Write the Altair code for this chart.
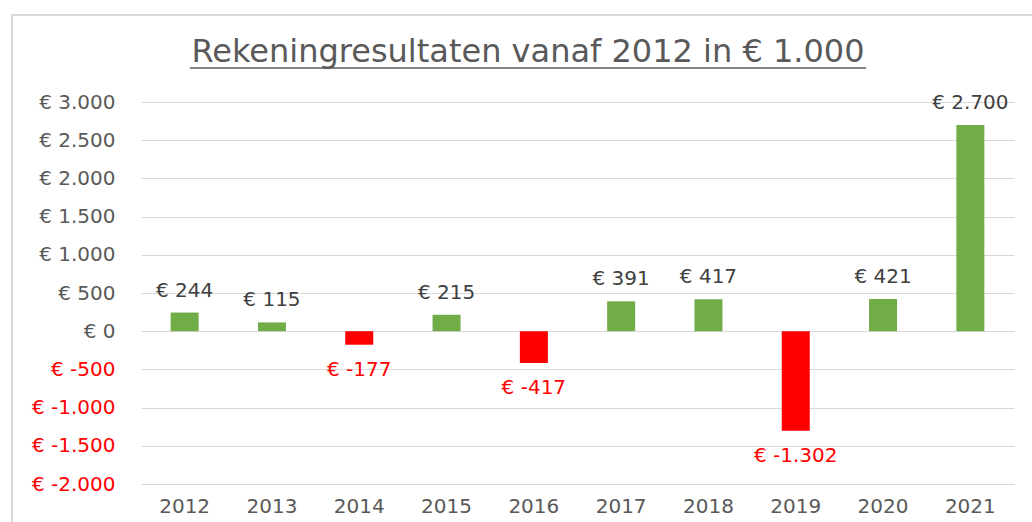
import altair as alt
import pandas as pd

years = ["2012", "2013", "2014", "2015", "2016", "2017", "2018", "2019", "2020", "2021"]
values = [244, 115, -177, 215, -417, 391, 417, -1302, 421, 2700]
y_ticks = [-2000, -1500, -1000, -500, 0, 500, 1000, 1500, 2000, 2500, 3000]
title_text = "Rekeningresultaten vanaf 2012 in € 1.000"


def eur(v):
    s = f"{abs(v):,}".replace(",", ".")
    return "€ " + ("-" if v < 0 else "") + s


df = pd.DataFrame({
    "year": years,
    "value": values,
    "label": [eur(v) for v in values],
    "sign": ["pos" if v >= 0 else "neg" for v in values],
})

FONT = "DejaVu Sans"
W, H = 873, 382

x_enc = alt.X("year:N", sort=years, title=None,
              axis=alt.Axis(labelAngle=0, ticks=False, domain=False, labelPadding=12,
                            labelFont=FONT, labelFontSize=20, labelColor="#595959"))
y_scale = alt.Scale(domain=[-2000, 3000], nice=False, zero=False)
y_enc = alt.Y("value:Q", scale=y_scale, title=None,
              axis=alt.Axis(values=y_ticks, tickCount=11, ticks=False, domain=False, labelPadding=26,
                            labelOverlap=False, labelBound=False, labelFlush=False,
                            grid=True, gridColor="#d9d9d9", gridWidth=1,
                            labelFont=FONT, labelFontSize=20,
                            labelColor=alt.expr("datum.value < 0 ? '#ff0000' : '#595959'"),
                            labelExpr="'€ ' + replace(replace(format(datum.value, ','), ',', '.'), '\u2212', '-')"))

base = alt.Chart(df).encode(x=x_enc, y=y_enc)

bars = base.mark_bar(size=28).encode(
    y2=alt.datum(0),
    color=alt.Color("sign:N", scale=alt.Scale(domain=["pos", "neg"], range=["#70ad47", "#ff0000"]), legend=None),
)

pos_labels = base.transform_filter("datum.value >= 0").mark_text(
    font=FONT, fontSize=20, color="#404040", baseline="middle", dy=-22
).encode(text="label:N")

neg_labels = base.transform_filter("datum.value < 0").mark_text(
    font=FONT, fontSize=20, color="#ff0000", baseline="middle", dy=25
).encode(text="label:N")

title_df = pd.DataFrame({"t": [title_text]})
title = alt.Chart(title_df).mark_text(
    font=FONT, fontSize=32, color="#595959", baseline="middle", align="center"
).encode(x=alt.value(387), y=alt.value(-50), text="t:N")

underline = alt.Chart(title_df).mark_rule(color="#595959", strokeWidth=1.5).encode(
    x=alt.value(49), x2=alt.value(725), y=alt.value(-34))

border = alt.Chart(title_df).mark_rect(fill=None, fillOpacity=0, stroke="#d9d9d9", strokeWidth=2).encode(
    x=alt.value(-129), x2=alt.value(1000), y=alt.value(-87), y2=alt.value(600))

chart = alt.layer(border, bars, pos_labels, neg_labels, title, underline).properties(
    width=W, height=H,
    autosize=alt.AutoSizeParams(type="none"),
    padding={"left": 141, "top": 102, "right": 18, "bottom": 38},
    background="white",
).configure_view(stroke=None)

chart.save("out.html", embed_options={"renderer": "svg", "actions": False})
